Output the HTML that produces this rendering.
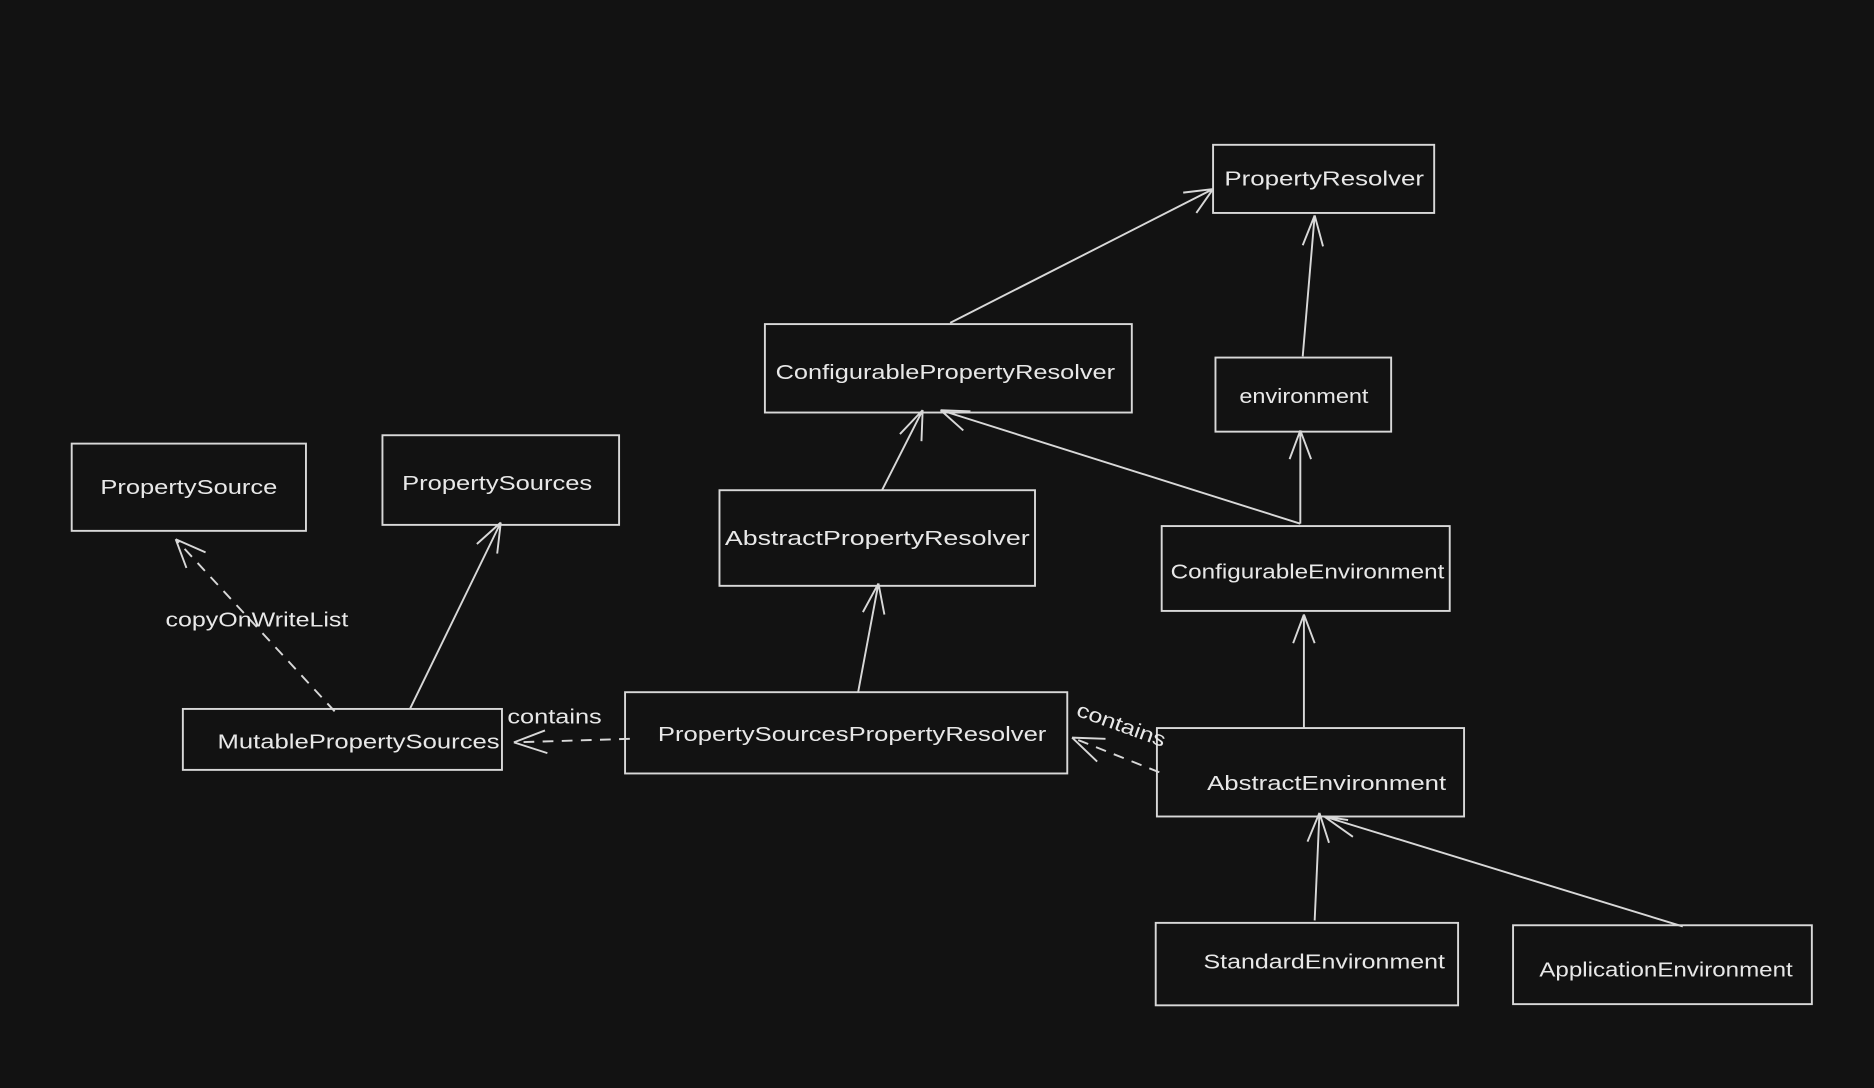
<!DOCTYPE html>
<html><head><meta charset="utf-8"><style>
html,body{margin:0;padding:0;background:#121212;}
svg{display:block;}
text{font-family:"Liberation Sans",sans-serif;fill:#e8e8e8;font-size:17px;}
</style></head><body>
<svg width="1874" height="1088" viewBox="0 0 1568 910" xmlns="http://www.w3.org/2000/svg">
<rect width="1568" height="910" fill="#121212"/>
<g fill="none" stroke="#d8d8d8" stroke-width="1.6">
<rect x="1015" y="121" width="185" height="57"/>
<rect x="640" y="271" width="307" height="74"/>
<rect x="1017" y="299" width="147" height="62"/>
<rect x="60" y="371" width="196" height="73"/>
<rect x="320" y="364" width="198" height="75"/>
<rect x="602" y="410" width="264" height="80"/>
<rect x="972" y="440" width="241" height="71"/>
<rect x="153" y="593" width="267" height="51"/>
<rect x="523" y="579" width="370" height="68"/>
<rect x="968" y="609" width="257" height="74"/>
<rect x="967" y="772" width="253" height="69"/>
<rect x="1266" y="774" width="250" height="66"/>
<path d="M795 270 L1015 158 M1015 158 L990 161 M1015 158 L1001 178"/>
<path d="M1090 298 L1100 180 M1100 180 L1090 205 M1100 180 L1107 206"/>
<path d="M738 410 L772 343 M772 343 L753 363 M772 343 L771 369"/>
<path d="M1088 438 L787 343 M787 343 L806 360 M787 343 L812 344"/>
<path d="M1088 438 L1088 360 M1088 360 L1079 384 M1088 360 L1097 384"/>
<path d="M718 579 L735 488 M735 488 L722 512 M735 488 L740 514"/>
<path d="M1091 609 L1091 514 M1091 514 L1082 538 M1091 514 L1100 538"/>
<path d="M343 593 L419 437 M419 437 L399 455 M419 437 L416 463"/>
<path d="M1100 770 L1104 680 M1104 680 L1094 704 M1104 680 L1112 705"/>
<path d="M1408 775 L1108 683 M1108 683 L1132 700 M1108 683 L1128 686"/>
<path d="M280 595 L147 451" stroke-dasharray="9 7"/>
<path d="M147 451 L156 475 M147 451 L172 462"/>
<path d="M527 618 L430 621" stroke-dasharray="9 7"/>
<path d="M430 621 L456 611 M430 621 L458 630"/>
<path d="M970 646 L897 617" stroke-dasharray="9 7"/>
<path d="M897 617 L918 637 M897 617 L925 618"/>
</g>
<g text-anchor="middle" lengthAdjust="spacingAndGlyphs">
<text x="1108" y="155" textLength="167" lengthAdjust="spacingAndGlyphs">PropertyResolver</text>
<text x="791" y="317" textLength="284" lengthAdjust="spacingAndGlyphs">ConfigurablePropertyResolver</text>
<text x="1091" y="337" textLength="108" lengthAdjust="spacingAndGlyphs">environment</text>
<text x="158" y="413" textLength="148" lengthAdjust="spacingAndGlyphs">PropertySource</text>
<text x="416" y="410" textLength="159" lengthAdjust="spacingAndGlyphs">PropertySources</text>
<text x="734" y="456" textLength="255" lengthAdjust="spacingAndGlyphs">AbstractPropertyResolver</text>
<text x="1094" y="484" textLength="229" lengthAdjust="spacingAndGlyphs">ConfigurableEnvironment</text>
<text x="300" y="626" textLength="236" lengthAdjust="spacingAndGlyphs">MutablePropertySources</text>
<text x="713" y="620" textLength="325" lengthAdjust="spacingAndGlyphs">PropertySourcesPropertyResolver</text>
<text x="1110" y="661" textLength="200" lengthAdjust="spacingAndGlyphs">AbstractEnvironment</text>
<text x="1108" y="810" textLength="202" lengthAdjust="spacingAndGlyphs">StandardEnvironment</text>
<text x="1394" y="817" textLength="212" lengthAdjust="spacingAndGlyphs">ApplicationEnvironment</text>
<text x="215" y="524" textLength="153" lengthAdjust="spacingAndGlyphs">copyOnWriteList</text>
<text x="464" y="605" textLength="79" lengthAdjust="spacingAndGlyphs">contains</text>
<text x="938" y="612" textLength="78" lengthAdjust="spacingAndGlyphs" transform="rotate(20 938 607)">contains</text>
</g>
</svg>
</body></html>
